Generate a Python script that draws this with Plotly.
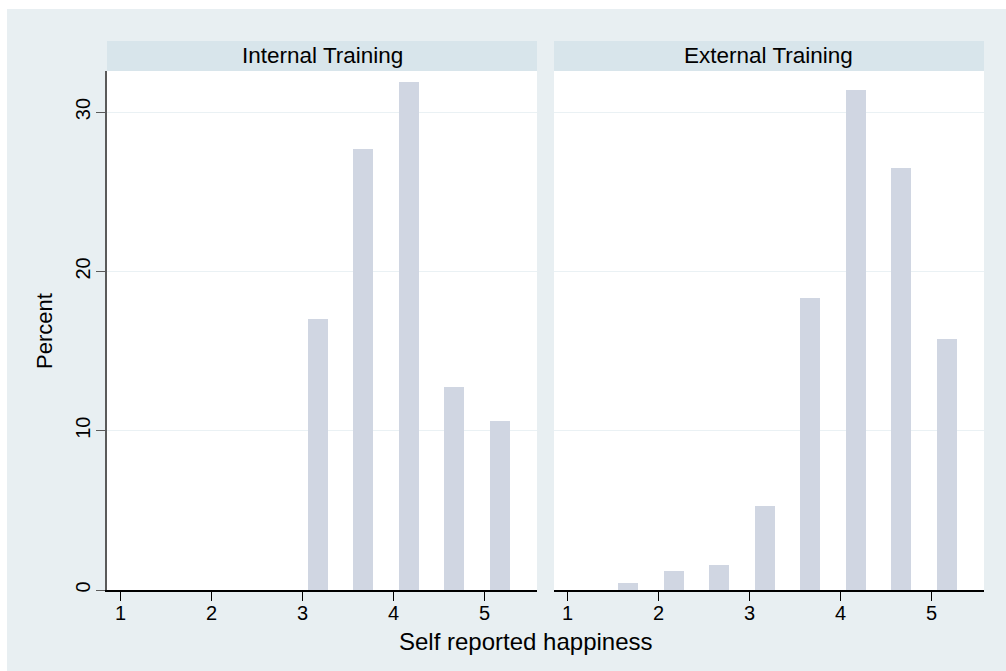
import plotly.graph_objects as go

# ---- data ----
bin_mid = [1.667, 2.167, 2.667, 3.167, 3.667, 4.167, 4.667, 5.167]
internal_pct = [0, 0, 0, 17.02, 27.66, 31.91, 12.77, 10.64]
external_pct = [0.45, 1.19, 1.56, 5.28, 18.32, 31.38, 26.51, 15.73]
panel_titles = ["Internal Training", "External Training"]
x_ticks = [1, 2, 3, 4, 5]
y_ticks = [0, 10, 20, 30]
x_title = "Self reported happiness"
y_title = "Percent"

# ---- style ----
W, H = 1006, 671
L, R, T, B = 107, 22, 71, 81
OUTER_BG = "rgb(232,239,242)"
STRIP_BG = "rgb(216,229,235)"
BAR_FILL = "rgb(208,214,226)"
GRID = "rgb(234,241,244)"
FONT = "Liberation Sans"

pw = W - L - R
ph = H - T - B
def px_x(x):
    return (x - L) / pw
def px_y(y):
    return (H - B - y) / ph

dom1 = [0, px_x(537)]
dom2 = [px_x(554), 1]

fig = go.Figure()
for i, vals in enumerate([internal_pct, external_pct]):
    fig.add_trace(go.Bar(
        x=bin_mid, y=vals, width=0.22,
        marker=dict(color=BAR_FILL, line=dict(width=0)),
        xaxis="x" if i == 0 else "x2",
        yaxis="y" if i == 0 else "y2",
        showlegend=False, hoverinfo="x+y",
    ))

xcommon = dict(range=[0.85, 5.575], tickvals=x_ticks, ticks="outside", ticklen=9,
               tickcolor="black", tickwidth=1.3, showline=True, linecolor="black",
               linewidth=1.5, showgrid=False, zeroline=False, ticklabelstandoff=-5,
               tickfont=dict(family=FONT, size=20, color="black"), fixedrange=True)
ycommon = dict(range=[0, 32.58], tickvals=y_ticks, showgrid=True, gridcolor=GRID,
               gridwidth=1.3, zeroline=False, fixedrange=True)

fig.update_layout(
    width=W, height=H,
    margin=dict(l=L, r=R, t=T, b=B),
    paper_bgcolor=OUTER_BG, plot_bgcolor="white",
    bargap=0,
    xaxis=dict(domain=dom1, anchor="y", **xcommon),
    xaxis2=dict(domain=dom2, anchor="y2", **xcommon),
    yaxis=dict(anchor="x", ticks="outside", ticklen=9, tickcolor="rgb(90,90,90)",
               tickwidth=1.3, showline=True, linecolor="rgb(90,90,90)", linewidth=1.5,
               tickangle=-90, ticklabelstandoff=-2,
               tickfont=dict(family=FONT, size=20, color="black"), **ycommon),
    yaxis2=dict(anchor="x2", showticklabels=False, ticks="", showline=False, **ycommon),
    font=dict(family=FONT, color="black"),
)

# white border strips at top/left (outside the grey graph region)
fig.add_shape(type="rect", xref="paper", yref="paper", x0=px_x(-5), x1=px_x(7),
              y0=px_y(H + 5), y1=px_y(-5), fillcolor="white", line=dict(width=0), layer="below")
fig.add_shape(type="rect", xref="paper", yref="paper", x0=px_x(-5), x1=px_x(W + 5),
              y0=px_y(9), y1=px_y(-5), fillcolor="white", line=dict(width=0), layer="below")

# strip headers
for dom, title in zip([dom1, dom2], panel_titles):
    fig.add_shape(type="rect", xref="paper", yref="paper", x0=dom[0], x1=dom[1],
                  y0=1, y1=px_y(41), fillcolor=STRIP_BG, line=dict(width=0))
    fig.add_annotation(xref="paper", yref="paper", x=(dom[0] + dom[1]) / 2, y=px_y(56),
                       text=title, showarrow=False, xanchor="center", yanchor="middle",
                       font=dict(family=FONT, size=22.5, color="black"))

fig.add_annotation(xref="paper", yref="paper", x=px_x(526), y=px_y(641), text=x_title,
                   showarrow=False, xanchor="center", yanchor="middle",
                   font=dict(family=FONT, size=24, color="black"))
fig.add_annotation(xref="paper", yref="paper", x=px_x(44), y=px_y(331), text=y_title,
                   showarrow=False, xanchor="center", yanchor="middle", textangle=-90,
                   font=dict(family=FONT, size=22, color="black"))

fig.write_html("out.html", config={"displayModeBar": False},
               post_script="document.body.style.margin='0';document.body.style.overflow='hidden';")
